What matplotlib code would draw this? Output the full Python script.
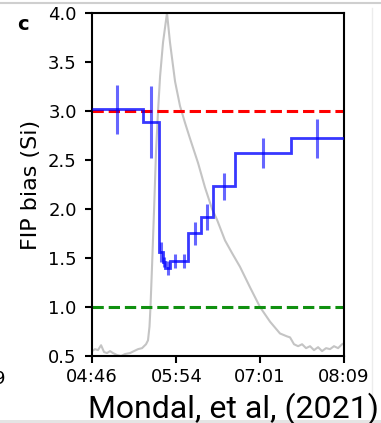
import numpy as np
import matplotlib
matplotlib.use('Agg')
import matplotlib.pyplot as plt
from matplotlib.lines import Line2D

# minutes after 04:46
tick_pos = [0, 68, 135, 203]
tick_labels = ['04:46', '05:54', '07:01', '08:09']

# FIP bias bins (step edges, values, error bars)
bin_edges = [0, 40.9, 53.6, 57.4, 59.0, 63.1, 70.4, 77.6, 87.6, 97.5, 115.3, 160.2, 203]
fip_vals = [3.02, 2.89, 1.56, 1.46, 1.40, 1.47, 1.47, 1.75, 1.92, 2.23, 2.57, 2.72]
fip_err = [0.25, 0.37, 0.10, 0.05, 0.07, 0.07, 0.07, 0.12, 0.13, 0.14, 0.15, 0.20]

# light curve (scaled to the FIP axis)
lc_t = [0, 2.4, 4.8, 7.3, 9.7, 12.1, 14.5, 16.9, 20.1, 23.4, 26.6, 30.6, 33.8, 37.1,
        40.3, 43.5, 45.1, 46.3, 47.1, 48.3, 50.0, 51.6, 53.2, 54.8, 57.2, 60.4,
        62.8, 66.9, 70.9, 74.9, 78.9, 85.4, 91.0, 96.7, 100.7, 107.1, 112.8, 119.2,
        127.3, 135.3, 143.4, 151.4, 157.1, 159.5, 162.7, 166.0, 169.2, 172.4, 175.6,
        178.8, 182.1, 185.3, 188.5, 191.7, 194.9, 198.2, 201.4, 203]
lc_v = [0.55, 0.57, 0.56, 0.61, 0.54, 0.53, 0.55, 0.53, 0.51, 0.50, 0.52, 0.53, 0.55, 0.57,
        0.58, 0.62, 0.66, 0.80, 1.00, 1.40, 2.00, 2.60, 3.00, 3.35, 3.70, 4.00,
        3.70, 3.30, 3.05, 2.88, 2.72, 2.47, 2.22, 2.00, 1.89, 1.68, 1.55, 1.41,
        1.20, 1.00, 0.85, 0.73, 0.70, 0.69, 0.62, 0.60, 0.62, 0.58, 0.60,
        0.56, 0.59, 0.55, 0.58, 0.57, 0.60, 0.58, 0.62, 0.63]

centers = [(bin_edges[i] + bin_edges[i + 1]) / 2 for i in range(len(fip_vals))]

fig = plt.figure(figsize=(3.81, 4.23), dpi=100)
ax = fig.add_axes([0.2415, 0.1584, 0.6615, 0.8109])

ax.plot(lc_t, lc_v, color='#c4c4c4', lw=1.5, zorder=1)
ax.axhline(3.0, color='red', ls='--', lw=2.2, zorder=2)
ax.axhline(1.0, color='#109010', ls='--', lw=2.2, zorder=2)
ax.stairs(fip_vals, bin_edges, color='blue', alpha=0.78, lw=2.0, baseline=None, zorder=3)
ax.errorbar(centers, fip_vals, yerr=fip_err, fmt='none', ecolor='blue', alpha=0.6,
            elinewidth=2.2, zorder=3)

ax.set_xlim(0, 203)
ax.set_ylim(0.5, 4.0)
ax.set_xticks(tick_pos)
ax.set_xticklabels(tick_labels)
ax.set_yticks(np.arange(0.5, 4.01, 0.5))
ax.tick_params(labelsize=13, width=1.5, length=5)
ax.tick_params(axis='y', pad=6)
for s in ax.spines.values():
    s.set_linewidth(1.5)
ax.set_ylabel('FIP bias (Si)', fontsize=16, labelpad=5)

fig.text(0.045, 0.941, 'c', fontsize=14, fontweight='bold', ha='left', va='center')
fig.text(0.0, 0.105, '9', fontsize=13, ha='center', va='center')
fig.text(0.614, 0.012, 'Mondal, et al, (2021)', fontsize=23, family='Roboto',
         ha='center', va='baseline')

# screenshot frame lines
fig.add_artist(Line2D([0, 1], [0.993, 0.993], color='#cfcfcf', lw=1.5))
fig.add_artist(Line2D([0.976, 0.976], [0, 0.98], color='#ececec', lw=1))
fig.add_artist(plt.Rectangle((0, 0), 1, 0.008, color='#e4e4e4', lw=0))

fig.savefig('out.png', dpi=100)
